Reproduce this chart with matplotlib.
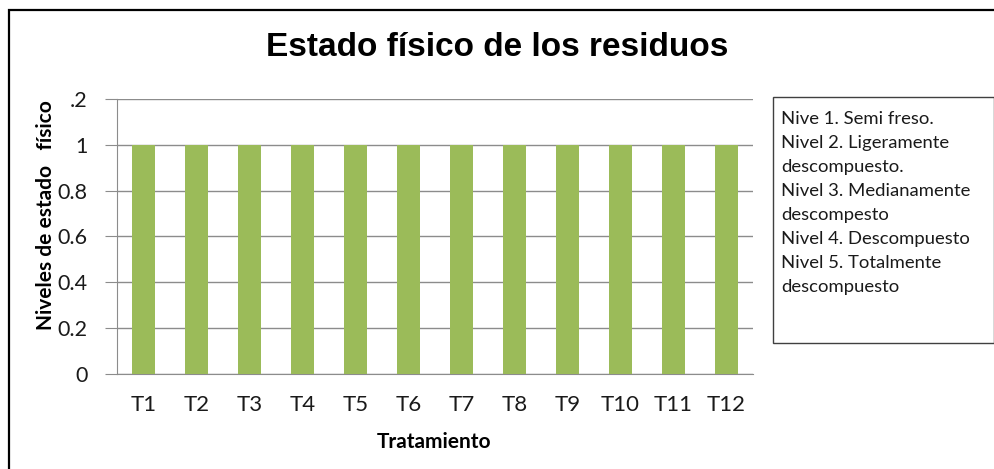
import numpy as np
import matplotlib
matplotlib.use("Agg")
from matplotlib import pyplot as plt
from matplotlib.patches import Rectangle

# data
tratamientos = ["T1", "T2", "T3", "T4", "T5", "T6", "T7", "T8", "T9", "T10", "T11", "T12"]
niveles = [1, 1, 1, 1, 1, 1, 1, 1, 1, 1, 1, 1]
yticks = [0, 0.2, 0.4, 0.6, 0.8, 1.0, 1.2]
ytick_labels = ["0", "0.2", "0.4", "0.6", "0.8", "1", ".2"]
leyenda = ["Nive 1. Semi freso.",
           "Nivel 2. Ligeramente",
           "descompuesto.",
           "Nivel 3. Medianamente",
           "descompesto",
           "Nivel 4. Descompuesto",
           "Nivel 5. Totalmente",
           "descompuesto"]

W, H = 995, 469
fig = plt.figure(figsize=(W / 100, H / 100), dpi=100)

# plot area in pixels: left 117, right 753, top 99, bottom 374
ax = fig.add_axes([117 / W, 1 - 374 / H, (753 - 117) / W, (374 - 99) / H])

x = np.arange(len(tratamientos))
ax.bar(x, niveles, width=0.42, color="#9BBB59", zorder=3)

ax.set_xlim(-0.5, len(tratamientos) - 0.5)
ax.set_ylim(0, 1.2)
ax.set_yticks(yticks)
ax.set_yticklabels(ytick_labels)
ax.set_xticks(x)
ax.set_xticklabels(tratamientos)

grid_col = "#8c8c8c"
ax.yaxis.grid(True, color=grid_col, linewidth=1, zorder=0)
for s in ["top", "right"]:
    ax.spines[s].set_visible(False)
ax.spines["left"].set_color(grid_col)
ax.spines["bottom"].set_color(grid_col)
ax.tick_params(axis="y", length=9, color=grid_col, pad=12, labelsize=15.5, labelcolor="#1a1a1a")
ax.tick_params(axis="x", length=0, pad=15, labelsize=16, labelcolor="#1a1a1a")
for lab in ax.get_xticklabels() + ax.get_yticklabels():
    lab.set_family("Lato")

# titles
fig.text(497 / W, 1 - 47 / H, "Estado físico de los residuos", ha="center", va="center",
         fontsize=24, fontweight="bold", family="Liberation Sans")
fig.text(46 / W, 1 - 215 / H, "Niveles de estado   físico", ha="center", va="center",
         rotation=90, fontsize=15, fontweight="bold", family="Lato")
fig.text(434 / W, 1 - 442 / H, "Tratamiento", ha="center", va="center",
         fontsize=15, fontweight="bold", family="Lato")

# outer border (right and bottom fall outside the image)
fig.patches.append(Rectangle((9 / W, -0.1), 1.2, 1 - 10 / H + 0.1, transform=fig.transFigure,
                             fill=False, edgecolor="black", linewidth=1.6))

# text box on the right
fig.patches.append(Rectangle((773 / W, 1 - 343 / H), (994 - 773) / W, (343 - 97) / H,
                             transform=fig.transFigure, fill=False, edgecolor="#404040", linewidth=1))
fig.text(781 / W, 1 - 111 / H, "\n".join(leyenda), ha="left", va="top",
         fontsize=13.3, family="Lato", linespacing=1.61, color="#1a1a1a")

fig.savefig("out.png", dpi=100)
